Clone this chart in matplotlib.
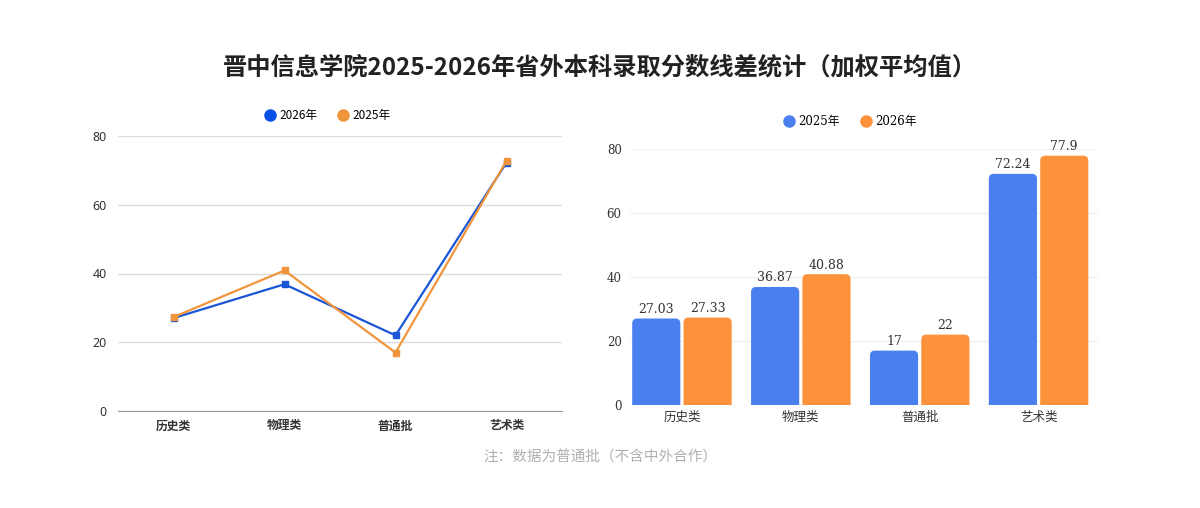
import matplotlib.pyplot as plt
from matplotlib.lines import Line2D
from matplotlib.patches import FancyBboxPatch
import numpy as np

plt.rcParams["font.family"] = ["Noto Sans CJK SC", "DejaVu Sans"]

TITLE = "晋中信息学院2025-2026年省外本科录取分数线差统计（加权平均值）"
NOTE = "注：数据为普通批（不含中外合作）"

categories = ["历史类", "物理类", "普通批", "艺术类"]

# left line chart (as labelled in the picture)
line_2026 = [27.03, 36.87, 22, 72.24]
line_2025 = [27.33, 40.88, 17, 72.8]

# right bar chart
bar_2025 = [27.03, 36.87, 17, 72.24]
bar_2026 = [27.33, 40.88, 22, 77.9]

yticks = [0, 20, 40, 60, 80]

LINE_BLUE = "#1a55d6"
LINE_ORANGE = "#f0953c"
BAR_BLUE = "#4a7ff0"
BAR_ORANGE = "#fd923c"
SERIF = ["DejaVu Serif", "Noto Sans CJK SC"]

fig = plt.figure(figsize=(12, 5.08), dpi=100)
fig.text(0.5, 1 - 67 / 508, TITLE, ha="center", va="center", fontsize=17.5,
         fontweight="bold", color="#222222")
fig.text(0.5, 1 - 458 / 508, NOTE, ha="center", va="center", fontsize=10.5,
         color="#b0b0b0")

# ---- left: line chart
ax1 = fig.add_axes([118 / 1200, 1 - 411 / 508, 444 / 1200, 275 / 508])
x = np.arange(len(categories))
ax1.plot(x, line_2026, color=LINE_BLUE, lw=1.6, marker="s", ms=4.5, clip_on=False, zorder=3)
ax1.plot(x, line_2025, color=LINE_ORANGE, lw=1.6, marker="s", ms=4.5, clip_on=False, zorder=3)
ax1.set_xlim(-0.5, 3.5)
ax1.set_ylim(0, 80)
ax1.set_yticks(yticks)
ax1.set_xticks(x)
ax1.set_xticklabels(categories, fontsize=8.5, fontweight="bold", color="#333333")
ax1.tick_params(axis="y", labelsize=9, labelcolor="#333333", length=0, pad=8)
for lab in ax1.get_yticklabels():
    lab.set_family(["Noto Sans", "DejaVu Sans"])
ax1.tick_params(axis="x", length=0, pad=6)
ax1.grid(axis="y", color="#dcdcdc", lw=1)
ax1.set_axisbelow(True)
for side in ["top", "right", "left"]:
    ax1.spines[side].set_visible(False)
ax1.spines["bottom"].set_color("#999999")
handles1 = [
    Line2D([], [], ls="none", marker="o", ms=8, color="#0a50e6"),
    Line2D([], [], ls="none", marker="o", ms=8, color=LINE_ORANGE),
]
fig.legend(handles1, ["2026年", "2025年"], loc="center", ncol=2, frameon=False,
           bbox_to_anchor=(327 / 1200, 1 - 116 / 508), fontsize=8.5,
           handletextpad=0.2, columnspacing=1.6, handlelength=1.2)

# ---- right: bar chart
ax2 = fig.add_axes([630 / 1200, 1 - 405 / 508, 468 / 1200, 256 / 508])
x_left = -52 / 119
ax2.set_xlim(x_left, 3.5)
ax2.set_ylim(0, 80)
w = 0.405
off = 0.216
px_x = 468 / (3.5 - x_left)
px_y = 256 / 80
rs = 5 / px_x
for series, dx, color in [(bar_2025, -off, BAR_BLUE), (bar_2026, off, BAR_ORANGE)]:
    for xi, v in zip(x, series):
        left = xi + dx - w / 2
        patch = FancyBboxPatch((left, -3), w, v + 3,
                               boxstyle=f"round,pad=0,rounding_size={rs}",
                               mutation_aspect=px_x / px_y, fc=color, ec="none")
        ax2.add_patch(patch)
        ax2.text(xi + dx, v + 0.8, f"{v:g}", ha="center", va="bottom",
                 fontsize=9, family=SERIF, color="#333333")
ax2.set_yticks(yticks)
ax2.set_xticks(x)
ax2.set_xticklabels(categories, fontsize=9, color="#333333")
ax2.tick_params(axis="y", labelsize=8.5, labelcolor="#333333", length=0, pad=6)
for lab in ax2.get_yticklabels():
    lab.set_family(SERIF)
ax2.tick_params(axis="x", length=0, pad=4)
ax2.grid(axis="y", color="#f0f0f0", lw=1)
ax2.set_axisbelow(True)
for side in ["top", "right", "left", "bottom"]:
    ax2.spines[side].set_visible(False)
handles2 = [
    Line2D([], [], ls="none", marker="o", ms=8, color=BAR_BLUE),
    Line2D([], [], ls="none", marker="o", ms=8, color=BAR_ORANGE),
]
fig.legend(handles2, ["2025年", "2026年"], loc="center", ncol=2, frameon=False,
           bbox_to_anchor=(849 / 1200, 1 - 122 / 508),
           handletextpad=0.2, columnspacing=1.6, handlelength=1.2,
           prop={"family": SERIF, "size": 8.5})

fig.savefig("out.png", dpi=100, facecolor="white")
